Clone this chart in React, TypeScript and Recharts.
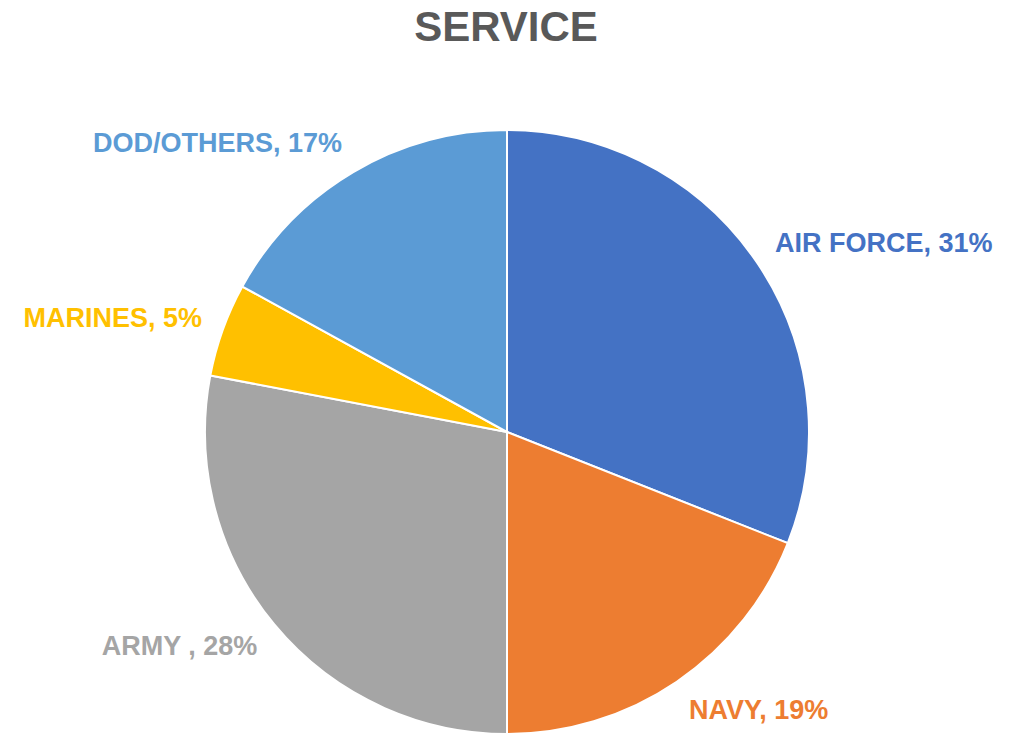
import { PieChart, Pie, Cell } from "recharts";

const services = ["AIR FORCE", "NAVY", "ARMY ", "MARINES", "DOD/OTHERS"];
const shares = [31, 19, 28, 5, 17];
const colors = ["#4472C4", "#ED7D31", "#A5A5A5", "#FFC000", "#5B9BD5"];

const data = services.map((name, i) => ({ name, value: shares[i] }));

const RADIAN = Math.PI / 180;

function renderLabel(props: any) {
    const { cx, cy, midAngle, outerRadius, index } = props;
    const sin = Math.sin(-midAngle * RADIAN);
    const cos = Math.cos(-midAngle * RADIAN);
    const x = cx + (outerRadius + 22) * cos;
    const y = cy + (outerRadius + 34) * sin;
    return (
        <text
            x={x}
            y={y}
            fill={colors[index]}
            textAnchor={cos >= 0 ? "start" : "end"}
            dominantBaseline="central"
            fontSize={27}
            fontWeight="bold"
            fontFamily="'Liberation Sans', Arial, sans-serif"
        >
            {`${services[index]}, ${shares[index]}%`}
        </text>
    );
}

export default function App() {
    return (
        <div style={{ position: "relative", width: 1012, height: 735, background: "#fff" }}>
            <style>{"body{margin:0}"}</style>
            <div
                style={{
                    position: "absolute",
                    top: 0,
                    left: 0,
                    width: 1012,
                    textAlign: "center",
                    fontFamily: "'Liberation Sans', Arial, sans-serif",
                    fontWeight: "bold",
                    fontSize: 42,
                    color: "#595959",
                    lineHeight: "54px",
                }}
            >
                SERVICE
            </div>
            <PieChart width={1012} height={735}>
                <Pie
                    data={data}
                    dataKey="value"
                    nameKey="name"
                    cx={502}
                    cy={427}
                    outerRadius={302}
                    startAngle={90}
                    endAngle={-270}
                    stroke="#ffffff"
                    strokeWidth={2}
                    label={renderLabel}
                    labelLine={false}
                    isAnimationActive={false}
                >
                    {data.map((d, i) => (
                        <Cell key={d.name} fill={colors[i]} />
                    ))}
                </Pie>
            </PieChart>
        </div>
    );
}
